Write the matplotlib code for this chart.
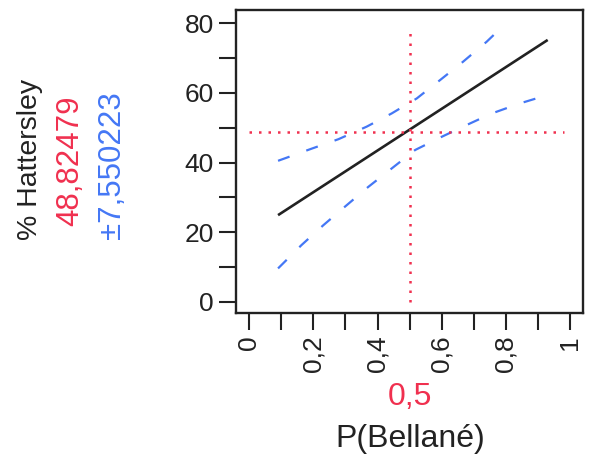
import matplotlib
matplotlib.use("Agg")
import matplotlib.pyplot as plt
import numpy as np

plt.rcParams['font.family'] = ['Liberation Sans', 'DejaVu Sans']

# fitted line
fit_x = [0.09, 0.93]
fit_y = [24.9, 75.2]
# upper confidence curve
up_x = [0.09, 0.189, 0.278, 0.366, 0.444, 0.522, 0.595, 0.667, 0.74, 0.80]
up_y = [40.5, 43.8, 46.7, 50.3, 54.1, 58.4, 63.7, 69.0, 74.7, 80.0]
# lower confidence curve
lo_x = [0.09, 0.163, 0.231, 0.298, 0.371, 0.444, 0.517, 0.60, 0.678, 0.756, 0.844, 0.93]
lo_y = [9.6, 16.3, 22.0, 27.3, 33.0, 38.3, 43.6, 47.4, 50.8, 54.1, 57.0, 59.4]
# crosshair
x_cur = 0.5
y_cur = 48.82479
y_err = 7.550223
h_range = [0.0, 0.98]
v_range = [0.0, 78.0]

RED = '#f0304f'
BLUE = '#4477f5'
INK = '#222222'

fig = plt.figure(figsize=(5.89, 4.61), dpi=100)
ax = fig.add_axes([236/589, 1-313/461, (583-236)/589, (313-10)/461])

ax.plot(fit_x, fit_y, color=INK, lw=1.9, solid_capstyle='butt')
ax.plot(up_x, up_y, color=BLUE, lw=1.6, dashes=(5.5, 8.0))
ax.plot(lo_x, lo_y, color=BLUE, lw=1.6, dashes=(5.5, 8.0))
ax.plot(h_range, [y_cur, y_cur], color=RED, lw=1.8, dashes=(1.0, 2.8))
ax.plot([x_cur, x_cur], v_range, color=RED, lw=1.8, dashes=(1.0, 2.8))

ax.set_xlim(-0.041, 1.04)
ax.set_ylim(-3.2, 83.8)

ax.set_yticks(np.arange(0, 81, 10))
ax.set_yticklabels([str(v) if v % 20 == 0 else '' for v in range(0, 81, 10)])
xt = np.round(np.arange(0, 1.01, 0.1), 1)
ax.set_xticks(xt)
labs = []
for i, v in enumerate(xt):
    if i % 2 == 0:
        labs.append(('%g' % v).replace('.', ','))
    else:
        labs.append('')
ax.set_xticklabels(labs, rotation=90)

for s in ax.spines.values():
    s.set_linewidth(1.7)
    s.set_color(INK)
ax.tick_params(axis='both', length=12, width=1.5, labelsize=19, color=INK,
               labelcolor=INK, pad=4)

fig.text(30/589, 1-159/461, '% Hattersley', rotation=90, ha='center', va='center',
         fontsize=20.5, color=INK)
fig.text(70/589, 1-161/461, '48,82479', rotation=90, ha='center', va='center',
         fontsize=22.5, color=RED)
fig.text(112/589, 1-165/461, '±7,550223', rotation=90, ha='center', va='center',
         fontsize=22.5, color=BLUE)
fig.text(410/589, 1-397/461, '0,5', ha='center', va='center', fontsize=23, color=RED)
fig.text(410/589, 1-439/461, 'P(Bellané)', ha='center', va='center', fontsize=23,
         color=INK)

fig.savefig('out.png', dpi=100)
